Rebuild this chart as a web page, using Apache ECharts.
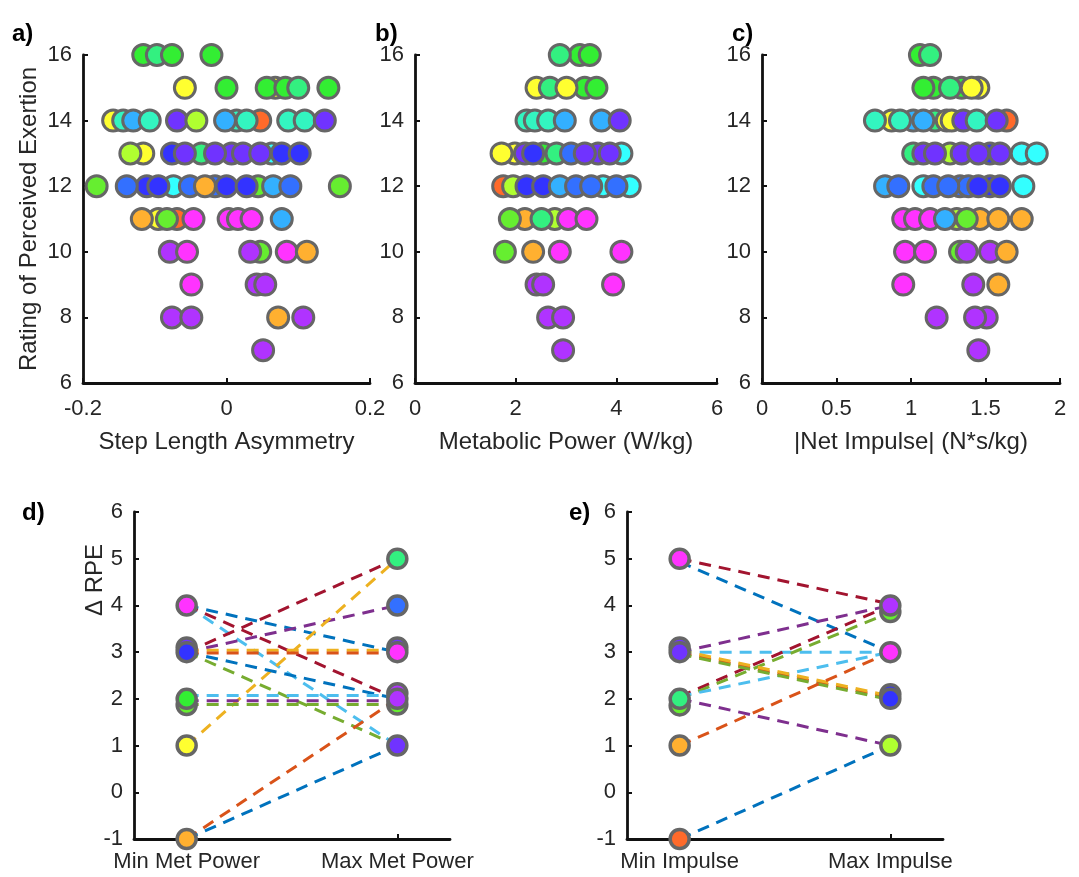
<!DOCTYPE html>
<html><head>
<meta charset="UTF-8">
<title>RPE scatter</title>
<style>
  html, body { margin: 0; padding: 0; background: #fff; }
  #chart { width: 1079px; height: 877px; }
</style>
</head>
<body>
<div id="chart"></div>
<script src="https://cdn.jsdelivr.net/npm/echarts@6/dist/echarts.min.js"></script>
<script>
// subject colours (hsv-like colormap)
const subjColors = ['#ff6a2a', '#ffb030', '#ffff30', '#b0ff30', '#66ee30', '#33ee33', '#33f080',
  '#33f5c0', '#33ffff', '#33b0ff', '#3370ff', '#3333ff', '#7033ff', '#b033ff', '#ff33ff'];
// matlab default line colours
const lineColors = ['#0072BD', '#D95319', '#EDB120', '#7E2F8E', '#77AC30', '#4DBEEE', '#A2142F'];

// panel a: [step length asymmetry, RPE, subject]
const aPts = [
  [-0.116,16,5],[-0.097,16,6],[-0.076,16,5],[-0.021,16,5],
  [0.068,15,2],[-0.058,15,2],[0.000,15,5],[0.056,15,5],[0.082,15,5],[0.100,15,6],[0.142,15,5],
  [-0.158,14,2],[-0.144,14,7],[-0.130,14,9],[-0.107,14,7],[-0.069,14,12],[-0.042,14,3],[0.014,14,7],
  [0.047,14,0],[-0.002,14,9],[0.028,14,7],[0.086,14,7],[0.109,14,7],[0.137,14,12],
  [-0.116,13,2],[-0.076,13,11],[-0.035,13,6],[0.007,13,12],[0.063,13,8],
  [-0.134,13,3],[-0.058,13,12],[-0.016,13,12],[0.023,13,12],[0.047,13,12],[0.077,13,11],[0.102,13,11],
  [-0.111,12,11],[-0.074,12,8],[-0.016,12,10],[0.044,12,4],
  [-0.181,12,4],[-0.139,12,10],[-0.095,12,11],[-0.051,12,10],[-0.030,12,1],[0.000,12,11],[0.028,12,11],
  [0.065,12,9],[0.089,12,10],[0.158,12,4],
  [-0.095,11,2],[-0.069,11,0],[0.003,11,14],
  [-0.118,11,1],[-0.083,11,4],[-0.046,11,14],[0.016,11,14],[0.035,11,14],[0.077,11,9],
  [0.047,10,4],[-0.079,10,13],[-0.055,10,14],[0.033,10,13],[0.084,10,14],[0.112,10,1],
  [0.042,9,13],[-0.049,9,14],[0.054,9,13],
  [-0.076,8,13],[-0.049,8,13],[0.072,8,1],[0.107,8,13],
  [0.051,7,13]
];

// panel b: [metabolic power, RPE, subject]
const bPts = [
  [3.274,16,5],[2.877,16,6],[3.472,16,5],
  [3.373,15,5],[2.415,15,2],[2.679,15,6],[3.010,15,2],[3.605,15,5],
  [2.216,14,7],[2.381,14,7],[2.645,14,7],[2.976,14,9],[3.704,14,9],[4.067,14,12],
  [1.984,13,2],[2.183,13,12],[2.546,13,5],[2.812,13,6],[3.637,13,12],[4.101,13,8],
  [1.720,13,2],[2.347,13,11],[3.100,13,10],[3.373,13,12],[3.869,13,12],
  [1.752,12,0],[1.950,12,3],[3.736,12,8],[4.266,12,8],
  [2.216,12,11],[2.546,12,11],[2.877,12,9],[3.200,12,10],[3.500,12,10],[4.002,12,10],
  [2.183,11,1],[2.778,11,3],
  [1.885,11,4],[2.514,11,6],[3.042,11,14],[3.407,11,14],
  [1.786,10,4],[2.347,10,1],[2.877,10,14],[4.101,10,14],
  [2.415,9,13],[2.546,9,13],[3.935,9,14],
  [2.645,8,13],[2.942,8,13],
  [2.942,7,13]
];

// panel c: [|net impulse|, RPE, subject]
const cPts = [
  [1.060,16,5],[1.128,16,6],
  [1.150,15,5],[1.340,15,5],[1.452,15,2],[1.083,15,5],[1.262,15,6],[1.407,15,2],
  [0.870,14,2],[1.015,14,9],[1.161,14,6],[1.240,14,2],[1.273,14,2],[1.642,14,0],
  [0.758,14,7],[0.926,14,7],[1.083,14,9],[1.351,14,12],[1.441,14,7],[1.575,14,12],
  [1.015,13,6],[1.262,13,3],[1.530,13,11],
  [1.083,13,12],[1.161,13,12],[1.340,13,12],[1.452,13,12],[1.597,13,12],[1.743,13,8],[1.844,13,8],
  [1.083,12,8],[1.329,12,10],[1.385,12,10],[1.530,12,11],
  [0.826,12,9],[0.915,12,10],[1.150,12,10],[1.250,12,10],[1.452,12,11],[1.597,12,11],[1.754,12,8],
  [1.307,11,3],[1.463,11,1],
  [0.948,11,14],[1.027,11,14],[1.128,11,14],[1.228,11,9],[1.374,11,4],[1.586,11,1],[1.743,11,1],
  [1.329,10,4],[0.960,10,14],[1.094,10,14],[1.374,10,13],[1.530,10,13],[1.642,10,1],
  [0.948,9,14],[1.418,9,13],[1.586,9,1],
  [1.172,8,13],[1.508,8,13],[1.430,8,13],
  [1.452,7,13]
];

// panel d: delta RPE at min / max metabolic power, line colour index
const dCats = ['Min Met Power', 'Max Met Power'];
const dMin = [4, 4, 3, 4, 3, 1, 3, 3, 3.04, 2.98, 2.07, 1.96, 1.88, -1, -1];
const dMax = [3, 1, 5, 2, 4, 5, 2, 1, 3.04, 2.98, 2.07, 1.96, 1.88, 2, 1];
const dLine = [0, 5, 6, 6, 3, 2, 0, 4, 2, 1, 5, 3, 4, 1, 0];
const dMarks = [
  [1,3.1,12],[1,4,14],[1,3,11],[1,1.87,4],[1,2,5],[1,1,2],[1,-1,1],
  [2,3.1,12],[2,2.12,13],[2,5,6],[2,4,10],[2,3,14],[2,1.88,4],[2,2,13],[2,1,12]
];

// panel e: delta RPE at min / max impulse
const eCats = ['Min Impulse', 'Max Impulse'];
const eMin = [5, 4.93, 3, 3, 2.05, 2, 2.05, 2.99, 3.04, 2.96, 1, 2, -1];
const eMax = [4.03, 3, 4, 3, 4, 3.85, 3, 2.02, 2.06, 1.98, 3, 1, 1];
const eLine = [6, 0, 3, 5, 6, 4, 5, 1, 2, 4, 1, 3, 0];
const eMarks = [
  [1,3.1,12],[1,5,14],[1,3,12],[1,1.86,4],[1,2,6],[1,1,1],[1,-1,0],
  [2,3.86,4],[2,4,13],[2,3,14],[2,2.1,11],[2,2,11],[2,1,3]
];

const FONT = '"Liberation Sans", Arial, sans-serif';
const TXT = '#262626';

function axis(extra) {
  return Object.assign({
    type: 'value',
    axisLine: { onZero: false, lineStyle: { color: '#111', width: 2.8 } },
    axisTick: { inside: true, length: 5, lineStyle: { color: '#111', width: 2 } },
    splitLine: { show: false },
    axisLabel: { color: TXT, fontSize: 22, fontFamily: FONT },
    nameTextStyle: { color: TXT, fontSize: 24, fontFamily: FONT }
  }, extra);
}

const grids = [
  { left: 83, top: 55, width: 287, height: 328 },
  { left: 415, top: 55, width: 302, height: 328 },
  { left: 762, top: 55, width: 298, height: 328 },
  { left: 134, top: 512, width: 316, height: 327 },
  { left: 627, top: 512, width: 316, height: 327 }
];

const xLab = { color: TXT, fontSize: 22, fontFamily: FONT, margin: 15 };
const xAxes = [
  axis({ gridIndex: 0, min: -0.2, max: 0.2, interval: 0.2, name: 'Step Length Asymmetry',
    nameLocation: 'middle', nameGap: 47, axisLabel: xLab }),
  axis({ gridIndex: 1, min: 0, max: 6, interval: 2, name: 'Metabolic Power (W/kg)',
    nameLocation: 'middle', nameGap: 47, axisLabel: xLab }),
  axis({ gridIndex: 2, min: 0, max: 2, interval: 0.5, name: '|Net Impulse| (N*s/kg)',
    nameLocation: 'middle', nameGap: 47, axisLabel: xLab }),
  axis({ gridIndex: 3, min: 0.75, max: 2.25,
    axisTick: { inside: true, length: 5, customValues: [1, 2], lineStyle: { color: '#111', width: 2 } },
    axisLabel: { color: TXT, fontSize: 22, fontFamily: FONT, margin: 12, customValues: [1, 2],
      formatter: v => dCats[Math.round(v) - 1] } }),
  axis({ gridIndex: 4, min: 0.75, max: 2.25,
    axisTick: { inside: true, length: 5, customValues: [1, 2], lineStyle: { color: '#111', width: 2 } },
    axisLabel: { color: TXT, fontSize: 22, fontFamily: FONT, margin: 12, customValues: [1, 2],
      formatter: v => eCats[Math.round(v) - 1] } })
];

const yLab = { color: TXT, fontSize: 22, fontFamily: FONT, margin: 11 };
const yAxes = [
  axis({ gridIndex: 0, min: 6, max: 16, interval: 2, axisLabel: yLab,
    name: 'Rating of Perceived Exertion', nameLocation: 'middle', nameGap: 42 }),
  axis({ gridIndex: 1, min: 6, max: 16, interval: 2, axisLabel: yLab }),
  axis({ gridIndex: 2, min: 6, max: 16, interval: 2, axisLabel: yLab }),
  axis({ gridIndex: 3, min: -1, max: 6, interval: 1, axisLabel: yLab }),
  axis({ gridIndex: 4, min: -1, max: 6, interval: 1, axisLabel: yLab })
];

function scatter(idx, data, size, bw) {
  return {
    type: 'scatter', xAxisIndex: idx, yAxisIndex: idx, data: data, clip: false,
    symbolSize: size, z: 3, silent: true,
    itemStyle: { color: p => subjColors[p.data[2]], borderColor: '#666', borderWidth: bw, opacity: 1 }
  };
}

function pairLines(idx, mins, maxs, cols) {
  return mins.map((m, i) => ({
    type: 'line', xAxisIndex: idx, yAxisIndex: idx, symbol: 'none', silent: true, z: 2,
    data: [[1, m], [2, maxs[i]]],
    lineStyle: { color: lineColors[cols[i]], width: 3, type: [12, 8] }
  }));
}

const series = [
  scatter(0, aPts, 21, 3),
  scatter(1, bPts, 21, 3),
  scatter(2, cPts, 21, 3),
  ...pairLines(3, dMin, dMax, dLine),
  ...pairLines(4, eMin, eMax, eLine),
  scatter(3, dMarks, 19, 3.5),
  scatter(4, eMarks, 19, 3.5)
];

const lbl = (t, x, y) => ({ type: 'text', x: x, y: y,
  style: { text: t, font: 'bold 24px ' + FONT, fill: '#000' } });

const chart = echarts.init(document.getElementById('chart'));
chart.setOption({
  animation: false,
  backgroundColor: '#fff',
  grid: grids,
  xAxis: xAxes,
  yAxis: yAxes,
  series: series,
  graphic: [
    lbl('a)', 12, 22), lbl('b)', 375, 22), lbl('c)', 732, 22),
    lbl('d)', 22, 501), lbl('e)', 569, 501),
    { type: 'text', x: 95, y: 580, rotation: Math.PI / 2,
      style: { text: '\u0394 RPE', font: '24px ' + FONT, fill: TXT, align: 'center', verticalAlign: 'middle' } }
  ]
});
</script>
</body></html>
